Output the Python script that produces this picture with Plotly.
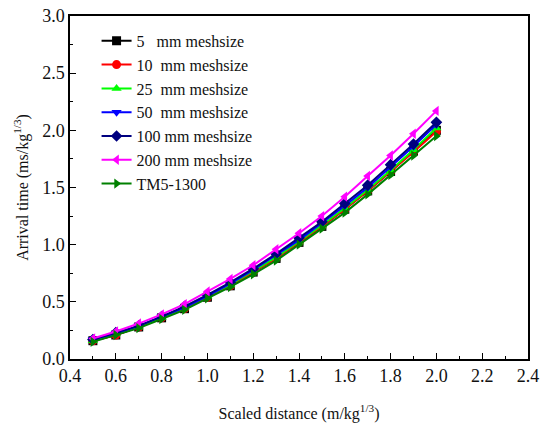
import plotly.graph_objects as go

x = [0.5, 0.6, 0.7, 0.8, 0.9, 1.0, 1.1, 1.2, 1.3, 1.4, 1.5, 1.6, 1.7, 1.8, 1.9, 2.0]
s5 = [0.16, 0.21, 0.28, 0.36, 0.44, 0.54, 0.64, 0.76, 0.88, 1.02, 1.16, 1.31, 1.47, 1.64, 1.82, 2.00]
s10 = [0.16, 0.21, 0.28, 0.36, 0.44, 0.54, 0.64, 0.76, 0.88, 1.02, 1.16, 1.31, 1.47, 1.64, 1.81, 1.99]
s25 = [0.16, 0.22, 0.28, 0.36, 0.45, 0.55, 0.65, 0.77, 0.89, 1.03, 1.17, 1.32, 1.48, 1.65, 1.83, 2.02]
s50 = [0.17, 0.22, 0.29, 0.37, 0.45, 0.55, 0.66, 0.78, 0.91, 1.04, 1.19, 1.34, 1.50, 1.68, 1.86, 2.05]
s100 = [0.17, 0.23, 0.29, 0.37, 0.46, 0.56, 0.67, 0.79, 0.92, 1.06, 1.20, 1.36, 1.52, 1.70, 1.88, 2.07]
s200 = [0.18, 0.24, 0.31, 0.39, 0.48, 0.59, 0.70, 0.82, 0.96, 1.10, 1.25, 1.42, 1.60, 1.78, 1.97, 2.17]
tm5 = [0.15, 0.21, 0.27, 0.35, 0.43, 0.53, 0.63, 0.74, 0.86, 1.00, 1.14, 1.28, 1.44, 1.61, 1.78, 1.95]

names = ["5   mm meshsize", "10  mm meshsize", "25  mm meshsize", "50  mm meshsize",
         "100 mm meshsize", "200 mm meshsize", "TM5-1300"]
series = [s5, s10, s25, s50, s100, s200, tm5]
colors = ["#000000", "#ff0000", "#00ff00", "#0000ff", "#000080", "#ff00ff", "#008000"]
symbols = ["square", "circle", "triangle-up", "triangle-down", "diamond", "triangle-left", "triangle-right"]

fig = go.Figure()
for n, s, c, m in zip(names, series, colors, symbols):
    fig.add_trace(go.Scatter(
        x=x, y=s, name=n.replace(" ", "\u00a0"), mode="lines+markers",
        line=dict(color=c, width=2),
        marker=dict(symbol=m, color=c, size=9),
    ))

font = "Liberation Serif, Times New Roman, serif"
fig.update_layout(
    width=542, height=423,
    margin=dict(l=70, r=14, t=16, b=64),
    paper_bgcolor="white", plot_bgcolor="white",
    font=dict(family=font, size=17, color="#111"),
    showlegend=True,
    legend=dict(x=0.058, y=0.977, xanchor="left", yanchor="top",
                bgcolor="rgba(0,0,0,0)", font=dict(size=16, family=font, color="#111"),
                tracegroupgap=0),
)
fig.update_xaxes(
    range=[0.4, 2.4], dtick=0.2, tick0=0.4, tickformat=".1f",
    showline=True, linecolor="black", linewidth=1.5, mirror=True,
    ticks="inside", ticklen=6, tickcolor="black",
    minor=dict(ticks="inside", ticklen=3, dtick=0.1, tickcolor="black"),
    showgrid=False, zeroline=False, automargin=False, ticklabeloverflow="allow",
    title=dict(text="Scaled distance (m/kg<sup>1/3</sup>)", font=dict(size=16, family=font), standoff=22),
    tickfont=dict(size=18, family=font),
)
fig.update_yaxes(
    range=[0, 3.0], dtick=0.5, tick0=0, tickformat=".1f",
    showline=True, linecolor="black", linewidth=1.5, mirror=True,
    ticks="inside", ticklen=6, tickcolor="black",
    minor=dict(ticks="inside", ticklen=3, dtick=0.25, tickcolor="black"),
    showgrid=False, zeroline=False, automargin=False, ticklabeloverflow="allow",
    title=dict(text="Arrival time (ms/kg<sup>1/3</sup>)", font=dict(size=16, family=font), standoff=10),
    tickfont=dict(size=18, family=font),
)
# remove the browser's default 8px body margin so the figure fills the window exactly
fig.write_html("out.html", config={"displayModeBar": False},
               post_script="document.body.style.margin='0';document.body.style.overflow='hidden';")
